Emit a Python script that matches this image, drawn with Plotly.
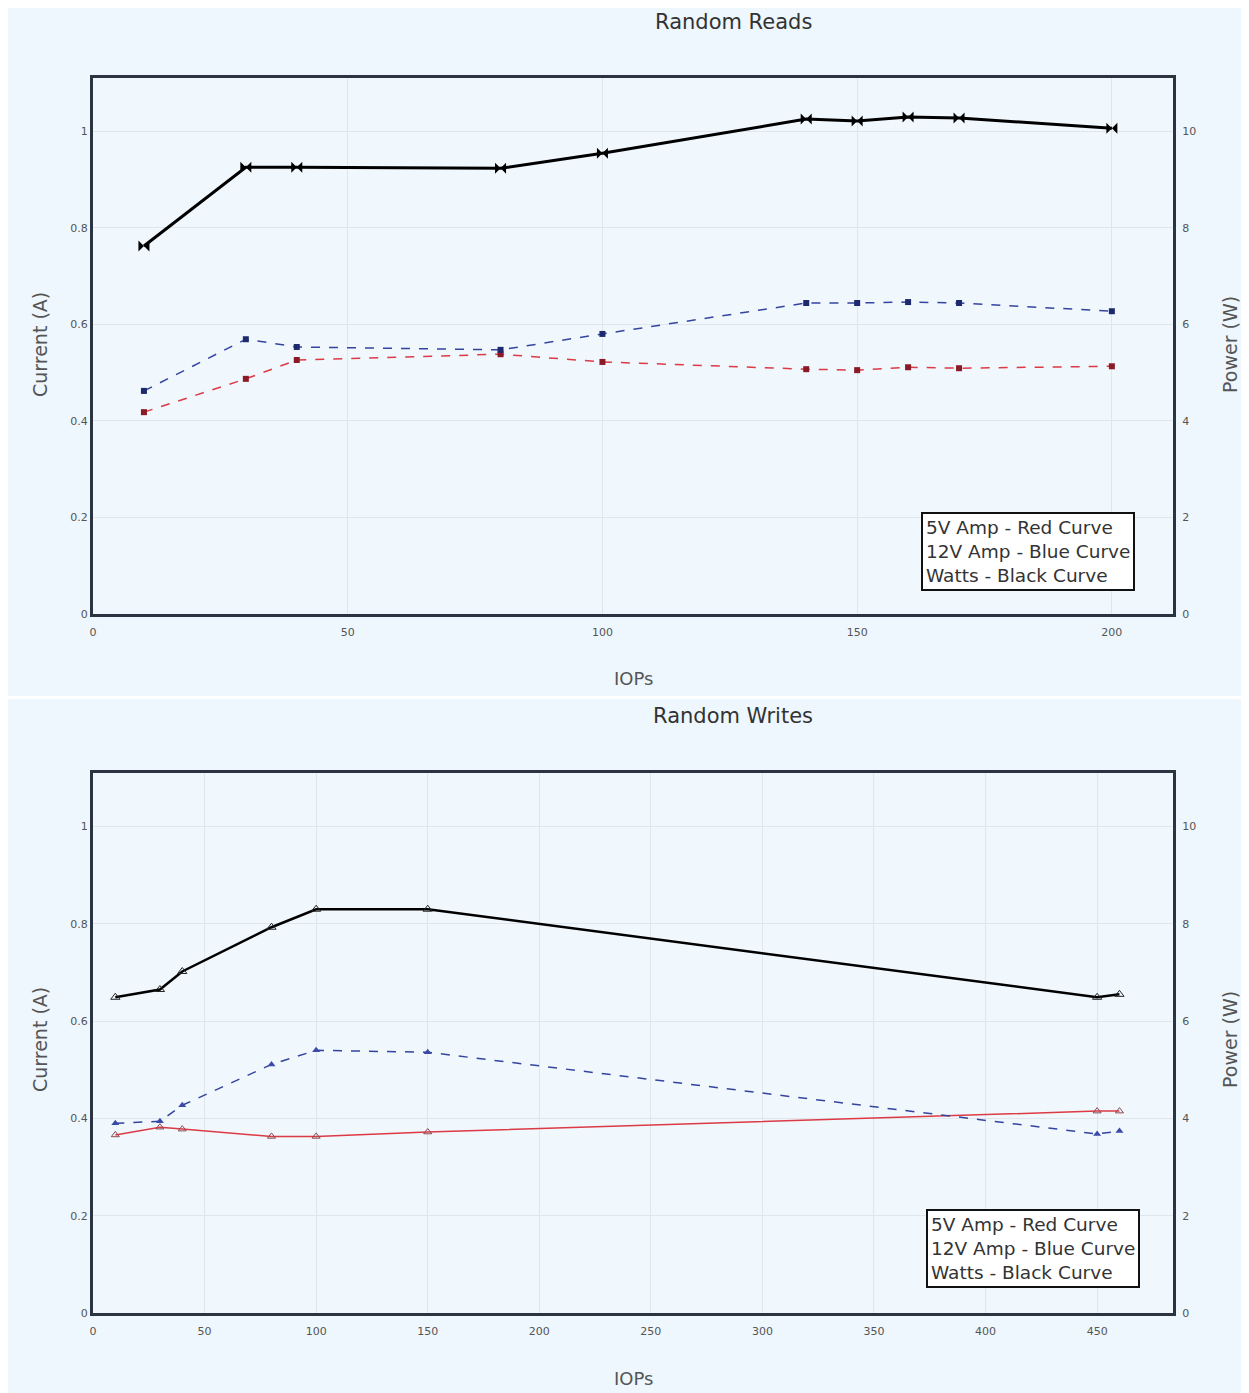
import plotly.graph_objects as go
from plotly.subplots import make_subplots

W, H = 1241, 1385

# ---- Data: Random Reads ----
reads_iops = [10, 30, 40, 80, 100, 140, 150, 160, 170, 200]
reads_5v_amp = [0.418, 0.487, 0.526, 0.538, 0.522, 0.507, 0.505, 0.511, 0.509, 0.513]
reads_12v_amp = [0.462, 0.569, 0.553, 0.547, 0.580, 0.644, 0.644, 0.646, 0.644, 0.627]
reads_watts = [7.62, 9.25, 9.25, 9.23, 9.54, 10.25, 10.21, 10.29, 10.27, 10.06]

# ---- Data: Random Writes ----
writes_iops = [10, 30, 40, 80, 100, 150, 450, 460]
writes_5v_amp = [0.366, 0.382, 0.378, 0.363, 0.363, 0.372, 0.415, 0.415]
writes_12v_amp = [0.390, 0.394, 0.427, 0.511, 0.540, 0.536, 0.368, 0.374]
writes_watts = [6.49, 6.65, 7.02, 7.93, 8.30, 8.30, 6.49, 6.55]

titles = ["Random Reads", "Random Writes"]
legend_lines = ["5V Amp - Red Curve", "12V Amp - Blue Curve", "Watts - Black Curve"]
left_ticks = [0, 0.2, 0.4, 0.6, 0.8, 1]
left_ticklabels = ["0", "0.2", "0.4", "0.6", "0.8", "1"]
right_ticks = [0, 2, 4, 6, 8, 10]
reads_xticks = [0, 50, 100, 150, 200]
writes_xticks = [0, 50, 100, 150, 200, 250, 300, 350, 400, 450]

RED = "#dc3a44"
BLUE = "#34449f"
BLACK = "#000000"
FONT = "DejaVu Sans, Liberation Sans, Arial, sans-serif"

fig = make_subplots(rows=2, cols=1, specs=[[{"secondary_y": True}], [{"secondary_y": True}]])

def px_x(p):
    return p / W

def px_y(p):
    return 1 - p / H

# Top chart traces
fig.add_trace(go.Scatter(x=reads_iops, y=reads_5v_amp, mode="lines+markers", name="5V Amp",
                         line=dict(color=RED, width=1.5, dash="dash"),
                         marker=dict(symbol="square", size=6, color="#8a1a26")), row=1, col=1, secondary_y=False)
fig.add_trace(go.Scatter(x=reads_iops, y=reads_12v_amp, mode="lines+markers", name="12V Amp",
                         line=dict(color=BLUE, width=1.5, dash="dash"),
                         marker=dict(symbol="square", size=6, color="#1e2a6e")), row=1, col=1, secondary_y=False)
fig.add_trace(go.Scatter(x=reads_iops, y=reads_watts, mode="lines+markers", name="Watts",
                         line=dict(color=BLACK, width=3),
                         marker=dict(symbol="bowtie", size=11, color=BLACK)), row=1, col=1, secondary_y=True)

# Bottom chart traces
fig.add_trace(go.Scatter(x=writes_iops, y=writes_5v_amp, mode="lines+markers", name="5V Amp",
                         line=dict(color=RED, width=1.5),
                         marker=dict(symbol="triangle-up-open", size=7, color="#8a4a50")), row=2, col=1, secondary_y=False)
fig.add_trace(go.Scatter(x=writes_iops, y=writes_12v_amp, mode="lines+markers", name="12V Amp",
                         line=dict(color=BLUE, width=1.5, dash="dash"),
                         marker=dict(symbol="triangle-up", size=7, color="#3a4aa8")), row=2, col=1, secondary_y=False)
fig.add_trace(go.Scatter(x=writes_iops, y=writes_watts, mode="lines+markers", name="Watts",
                         line=dict(color=BLACK, width=2.5),
                         marker=dict(symbol="triangle-up-open", size=8, color="#222222")), row=2, col=1, secondary_y=True)

AXIS_LINE = "#2b3440"
GRID = "#dfe6ee"
TICKFONT = dict(family=FONT, size=11, color="#555555")

top_y = [px_y(606), px_y(70)]
bot_y = [px_y(1305), px_y(765)]
xdom = [px_x(85), px_x(1165)]

common_x = dict(domain=xdom, showline=True, linecolor=AXIS_LINE, linewidth=3, mirror=True,
                showgrid=True, gridcolor=GRID, gridwidth=1, zeroline=False, ticks="",
                tickfont=TICKFONT, automargin=False, ticklabelstandoff=6)
common_y = dict(showline=True, linecolor=AXIS_LINE, linewidth=3, mirror=True,
                showgrid=True, gridcolor=GRID, gridwidth=1, zeroline=False, ticks="",
                tickfont=TICKFONT, automargin=False)

fig.update_layout(
    xaxis=dict(common_x, range=[0, 212], tickvals=reads_xticks),
    yaxis=dict(common_y, domain=top_y, range=[0, 1.11], tickvals=left_ticks, ticktext=left_ticklabels),
    yaxis2=dict(common_y, range=[0, 11.1], tickvals=right_ticks, showgrid=False, ticklabelstandoff=4),
    xaxis2=dict(common_x, range=[0, 484], tickvals=writes_xticks),
    yaxis3=dict(common_y, domain=bot_y, range=[0, 1.11], tickvals=left_ticks, ticktext=left_ticklabels),
    yaxis4=dict(common_y, range=[0, 11.1], tickvals=right_ticks, showgrid=False, ticklabelstandoff=4),
)

fig.update_layout(
    width=W, height=H,
    margin=dict(l=0, r=0, t=0, b=0),
    paper_bgcolor="#eef7fd",
    plot_bgcolor="#f0f7fd",
    showlegend=False,
    font=dict(family=FONT, color="#444444"),
)

# white separator between the two chart blocks
shapes = [
    dict(type="rect", xref="paper", yref="paper", x0=0, x1=1, y0=px_y(691), y1=px_y(688),
         fillcolor="#ffffff", line=dict(width=0), layer="below"),
]
fig.update_layout(shapes=shapes)

annotations = []
for title, ty, cy, xy in [(titles[0], 14, 337, 670), (titles[1], 708, 1032, 1370)]:
    annotations.append(dict(text=title, xref="paper", yref="paper", x=px_x(725), y=px_y(ty),
                            xanchor="center", yanchor="middle", showarrow=False,
                            font=dict(size=21, color="#333333")))
    annotations.append(dict(text="Current (A)", xref="paper", yref="paper", x=px_x(32), y=px_y(cy),
                            xanchor="center", yanchor="middle", showarrow=False, textangle=-90,
                            font=dict(size=19, color="#555555")))
    annotations.append(dict(text="Power (W)", xref="paper", yref="paper", x=px_x(1222), y=px_y(cy),
                            xanchor="center", yanchor="middle", showarrow=False, textangle=-90,
                            font=dict(size=19, color="#555555")))
    annotations.append(dict(text="IOPs", xref="paper", yref="paper", x=px_x(625), y=px_y(xy),
                            xanchor="center", yanchor="middle", showarrow=False,
                            font=dict(size=18, color="#555555")))

legend_text = "<br>".join(legend_lines)
for (lx, ly) in [(913, 504), (918, 1201)]:
    annotations.append(dict(text=legend_text, xref="paper", yref="paper", x=px_x(lx), y=px_y(ly),
                            xanchor="left", yanchor="top", align="left", showarrow=False,
                            bgcolor="#ffffff", bordercolor="#111111", borderwidth=2, borderpad=3,
                            font=dict(size=18.5, color="#333333")))
fig.update_layout(annotations=annotations)

fig.write_html("out.html")
